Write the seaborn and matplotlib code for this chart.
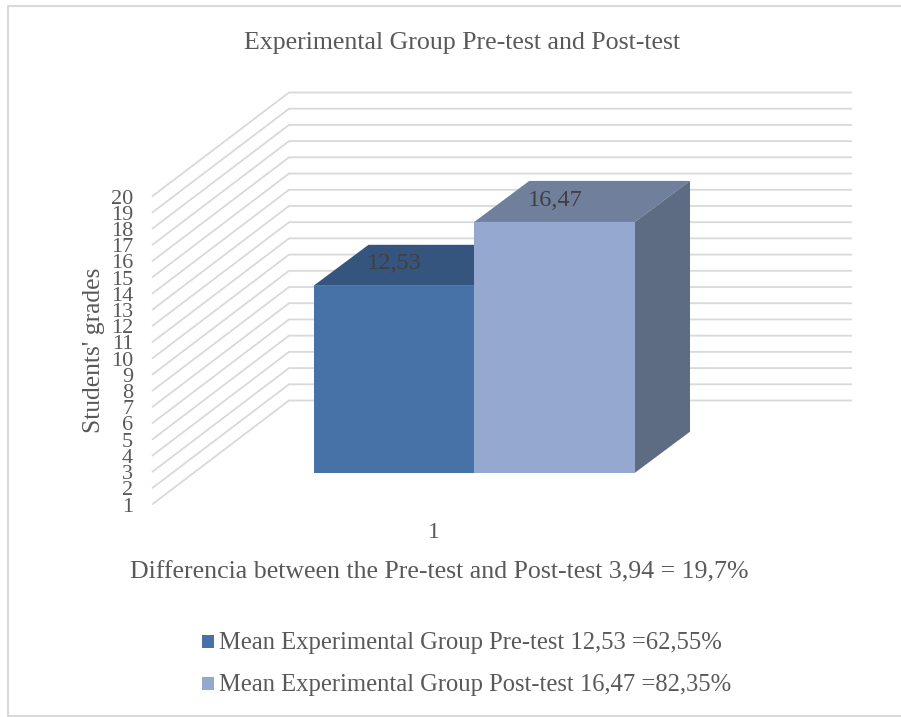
import seaborn as sns
import pandas as pd
import matplotlib.pyplot as plt
from matplotlib.patches import Polygon, Rectangle

groups = ['Mean Experimental Group Pre-test 12,53 =62,55%',
          'Mean Experimental Group Post-test 16,47 =82,35%']
means = [12.53, 16.47]
mean_labels = ['12,53', '16,47']
grades = list(range(1, 21))
category = '1'
front_colors = ['#4672a8', '#95a9d0']
top_colors = ['#35557f', '#6f7f9c']
side_colors = ['#2e4a6e', '#5d6b83']
GRID = '#d9d9d9'
TXT = '#595959'

W, H = 901, 717
sns.set_theme(style='white')
plt.rcParams['font.family'] = ['Liberation Serif', 'DejaVu Serif']


def axes_px(left, right, top, bottom):
    return fig.add_axes([left / W, 1 - bottom / H, (right - left) / W, (bottom - top) / H])


fig = plt.figure(figsize=(W / 100, H / 100), dpi=100)

# full figure axes in pixels, for the walls and the 3d faces
bg = fig.add_axes([0, 0, 1, 1])
bg.set_xlim(0, W)
bg.set_ylim(H, 0)
bg.axis('off')
bg.plot([8, 8, W], [716, 5.5, 5.5], color=GRID, lw=1.5)
bg.plot([8, W], [716, 716], color=GRID, lw=1.5)

# value axis on the front edge of the floor
val = axes_px(152, 153, 196.5, 504.5)
val.set_ylim(1, 20)
val.set_xticks([])
val.set_yticks(grades)
val.set_yticklabels([str(g) for g in grades], fontsize=16, color=TXT)
val.tick_params(axis='y', length=0, pad=13.5)
sns.despine(ax=val, left=True, bottom=True)
val.patch.set_alpha(0)
val.set_ylabel("Students' grades", fontsize=18.4, color=TXT, labelpad=4)

for g in grades:
    _, yf = bg.transData.inverted().transform(val.transData.transform((0, g)))
    bg.plot([152, 289, 852], [yf, yf - 104, yf - 104], color=GRID, lw=1.3, solid_capstyle='butt')

# bars, in the plane a little behind the front edge
ax = axes_px(313.5, 635, 472.7 - 19 * 16.21, 472.7)
df = pd.DataFrame({'x': [category, category], 'group': groups, 'mean': means})
sns.barplot(data=df, x='x', y='mean', hue='group', hue_order=groups, palette=front_colors,
            width=1, gap=0, saturation=1, legend=False, linewidth=0, ax=ax)
ax.set_xlim(-0.5, 0.5)
ax.set_ylim(1, 20)
ax.axis('off')

DX, DY = 55, -41
to_bg = bg.transData.inverted()
bars = sorted(ax.patches, key=lambda p: p.get_x())
for i, p in enumerate(bars):
    x0, y0 = to_bg.transform(ax.transData.transform((p.get_x(), 1)))
    x1, y1 = to_bg.transform(ax.transData.transform((p.get_x() + p.get_width(), p.get_height())))
    bg.add_patch(Polygon([(x0, y1), (x1, y1), (x1 + DX, y1 + DY), (x0 + DX, y1 + DY)],
                         fc=top_colors[i], ec='none', zorder=3 + i))
    bg.add_patch(Polygon([(x1, y1), (x1 + DX, y1 + DY), (x1 + DX, y0 + DY), (x1, y0)],
                         fc=side_colors[i], ec='none', zorder=3 + i))
    bg.text(x0 + 81, y1 - 22 + i, mean_labels[i], ha='center', va='center',
            fontsize=17.6, color='#404040', zorder=6)

bg.text(434, 533, category, ha='center', va='center', fontsize=17, color=TXT)
bg.text(462, 43, 'Experimental Group Pre-test and Post-test', ha='center', va='center',
        fontsize=18.6, color=TXT)
bg.text(439, 572, 'Differencia between the Pre-test and Post-test 3,94 = 19,7%',
        ha='center', va='center', fontsize=18.6, color=TXT)

# legend
for name, c, y in zip(groups, front_colors, [641, 683]):
    bg.add_patch(Rectangle((202, y - 6.5), 12, 13, fc=c, ec='none'))
    bg.text(219, y + 1.5, name, ha='left', va='center', fontsize=17.7, color=TXT)

fig.savefig('out.png', dpi=100)
